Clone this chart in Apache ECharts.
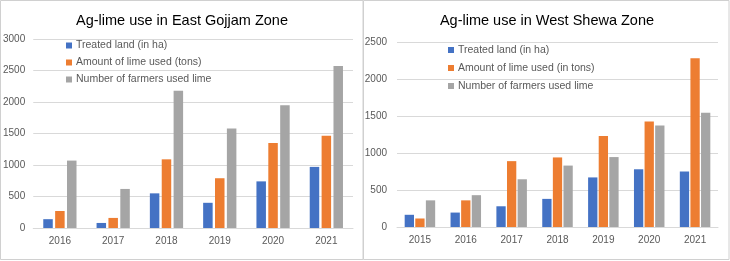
<!DOCTYPE html>
<html>
<head>
<meta charset="utf-8">
<script src="https://cdn.jsdelivr.net/npm/echarts@6/dist/echarts.min.js"></script>
<style>
	html, body { margin: 0; padding: 0; background: #fff; }
	#main { width: 730px; height: 261px; }
</style>
</head>
<body>
<div id="main"></div>
<script>
	// East Gojjam (left)
	var eastYears = ['2016', '2017', '2018', '2019', '2020', '2021']
	var eastLand = [140, 80, 550, 400, 740, 970]
	var eastLime = [270, 160, 1090, 790, 1350, 1465]
	var eastFarmers = [1070, 620, 2180, 1580, 1950, 2570]

	// West Shewa (right)
	var westYears = ['2015', '2016', '2017', '2018', '2019', '2020', '2021']
	var westLand = [165, 195, 280, 380, 670, 780, 750]
	var westLime = [115, 360, 890, 940, 1230, 1425, 2280]
	var westFarmers = [360, 430, 645, 830, 945, 1370, 1545]

	var blue = '#4472C4', orange = '#ED7D31', grey = '#A5A5A5'
	var txt = '#595959', line = '#d9d9d9'
	var font = '"Liberation Sans", Arial, sans-serif'

	function xAxis(idx, data) {
		return {
			type: 'category', gridIndex: idx, data: data,
			axisLine: { lineStyle: { color: line } },
			axisTick: { show: false },
			axisLabel: { color: txt, fontSize: 10, fontFamily: font, margin: 8 }
		}
	}
	function yAxis(idx, max, margin) {
		return {
			type: 'value', gridIndex: idx, min: 0, max: max, interval: 500,
			axisLine: { show: false },
			axisTick: { show: false },
			splitLine: { lineStyle: { color: line } },
			axisLabel: {
				color: txt, fontSize: 10, fontFamily: font, margin: margin,
				formatter: function (v) { return String(v) }
			}
		}
	}
	function bar(name, idx, data, color, width, gap) {
		return {
			name: name, type: 'bar', xAxisIndex: idx, yAxisIndex: idx,
			data: data, barWidth: width, barGap: gap,
			itemStyle: { color: color }, animation: false
		}
	}
	function legend(left, top, gap, names) {
		return {
			orient: 'vertical', left: left, top: top, padding: 0,
			itemWidth: 6, itemHeight: 6, itemGap: gap, icon: 'rect',
			data: names,
			textStyle: { color: txt, fontSize: 10.5, lineHeight: 12, fontFamily: font, padding: [0, 0, 0, -1] }
		}
	}
	function title(text, x) {
		return {
			text: text, left: x, top: 13, padding: 0, textAlign: 'center',
			textStyle: { fontSize: 14.5, fontWeight: 'normal', color: '#000', fontFamily: font }
		}
	}

	var myChart = echarts.init(document.getElementById('main'))
	var option = {
		backgroundColor: '#fff',
		color: [blue, orange, grey],
		title: [
			title('Ag-lime use in East Gojjam Zone', 182),
			title('Ag-lime use in West Shewa Zone', 547)
		],
		legend: [
			legend(66, 39.5, 5, ['Treated land (in ha)', 'Amount of lime used (tons)', 'Number of farmers used lime']),
			legend(448, 44, 6, ['Treated land (in ha)', 'Amount of lime used (in tons)', 'Number of farmers used lime'])
		],
		grid: [
			{ left: 33, top: 39, width: 320, height: 189 },
			{ left: 397, top: 42, width: 321, height: 185 }
		],
		xAxis: [xAxis(0, eastYears), xAxis(1, westYears)],
		yAxis: [yAxis(0, 3000, 8), yAxis(1, 2500, 10)],
		series: [
			bar('Treated land (in ha)', 0, eastLand, blue, 9.5, '25%'),
			bar('Amount of lime used (tons)', 0, eastLime, orange, 9.5, '25%'),
			bar('Number of farmers used lime', 0, eastFarmers, grey, 9.5, '25%'),
			bar('Treated land (in ha)', 1, westLand, blue, 9.3, '14%'),
			bar('Amount of lime used (in tons)', 1, westLime, orange, 9.3, '14%'),
			bar('Number of farmers used lime', 1, westFarmers, grey, 9.3, '14%')
		],
		graphic: [
			{ type: 'rect', shape: { x: 0.5, y: 0.5, width: 362.5, height: 259 },
			  style: { fill: 'none', stroke: '#d0d0d0', lineWidth: 1 }, silent: true },
			{ type: 'rect', shape: { x: 363.5, y: 0.5, width: 365.5, height: 259 },
			  style: { fill: 'none', stroke: '#d0d0d0', lineWidth: 1 }, silent: true }
		]
	}
	myChart.setOption(option, true)
</script>
</body>
</html>
